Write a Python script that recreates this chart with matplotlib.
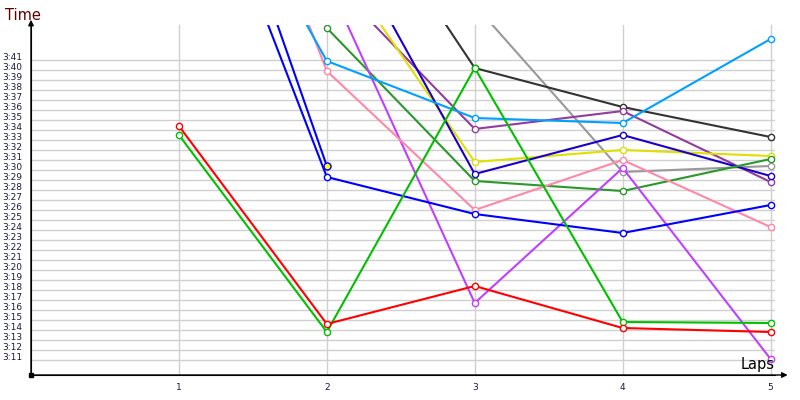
import matplotlib
matplotlib.use("Agg")
import matplotlib.pyplot as plt
import numpy as np

nan = np.nan
laps = [1, 2, 3, 4, 5]

# lap times in seconds (3:11 = 191 s), nan = no lap
red = [214.4, 194.6, 198.4, 194.2, 193.8]
green = [213.5, 193.8, 220.2, 194.8, 194.7]
blue = [247.6, 209.3, 205.6, 203.7, 206.5]
blue_retired = [252.7, 210.4, nan, nan, nan]
light_blue = [247.5, 220.9, 215.2, 214.7, 223.1]
pink = [258.0, 219.9, 206.0, 211.0, 204.3]
violet = [nan, 229.0, 196.7, 210.2, 191.1]
dark_green = [nan, 224.2, 208.9, 207.9, 211.1]
yellow = [nan, 232.4, 210.8, 212.0, 211.4]
purple = [nan, 229.4, 214.1, 215.9, 208.8]
dark_blue = [nan, 236.4, 209.6, 213.5, 209.4]
dark_gray = [nan, 242.4, 220.2, 216.3, 213.3]
gray = [nan, nan, 226.5, 209.8, 210.4]

series = [
    (gray, "#999999"),
    (dark_gray, "#333333"),
    (purple, "#923c9e"),
    (yellow, "#e0e000"),
    (dark_blue, "#1a00c8"),
    (dark_green, "#2a982a"),
    (violet, "#c040ff"),
    (pink, "#ff88a8"),
    (light_blue, "#00a0ff"),
    (blue_retired, "#0000ff"),
    (blue, "#0000ff"),
    (green, "#00c000"),
    (red, "#ff0000"),
]

tick_secs = list(range(191, 222))
tick_labels = ["%d:%02d" % (s // 60, s % 60) for s in tick_secs]

fig = plt.figure(figsize=(8, 4), dpi=100)
ax = fig.add_axes([31 / 800, 25 / 400, 744 / 800, 350 / 400])

for values, color in series:
    ax.plot(laps, values, color=color, lw=1.5, marker="o", ms=4.5,
            mfc="white", mec=color, mew=1.0)

# highlighted last point of the retired driver
ax.plot(laps[1], blue_retired[1], marker="o", ms=5, mfc="#ffff00",
        mec="#0000ff", mew=1.0, ls="none")

ax.set_xlim(0, 5.03)
ax.set_ylim(189.5, 224.5)
ax.set_xticks(laps)
ax.set_xticklabels([str(l) for l in laps])
ax.set_yticks(tick_secs)
ax.set_yticklabels(tick_labels, va="baseline")
ax.tick_params(axis="both", length=0, labelsize=6.5, labelcolor="#1a1a40")
ax.tick_params(axis="y", pad=6.5)
ax.tick_params(axis="x", pad=6)
ax.grid(True, color="#d0d0d0", lw=1)
ax.set_axisbelow(True)

for side in ["top", "right"]:
    ax.spines[side].set_visible(False)
ax.spines["left"].set_color("black")
ax.spines["bottom"].set_color("black")

ax.annotate("", xy=(1.017, 0), xytext=(0, 0), xycoords="axes fraction",
            arrowprops=dict(arrowstyle="-|>", color="black", lw=1,
                            shrinkA=0, shrinkB=0, mutation_scale=8))
ax.annotate("", xy=(0, 1.015), xytext=(0, 0), xycoords="axes fraction",
            arrowprops=dict(arrowstyle="-|>", color="black", lw=1,
                            shrinkA=0, shrinkB=0, mutation_scale=8))
ax.plot([0], [0], marker="s", ms=3, color="black", transform=ax.transAxes,
        clip_on=False)

fig.text(5 / 800, 1 - 15 / 400, "Time", color="#600000", fontsize=10.5,
         va="center", ha="left")
fig.text(775 / 800, 1 - 365 / 400, "Laps", color="black", fontsize=10.5,
         va="center", ha="right")

fig.savefig("out.png", dpi=100)
